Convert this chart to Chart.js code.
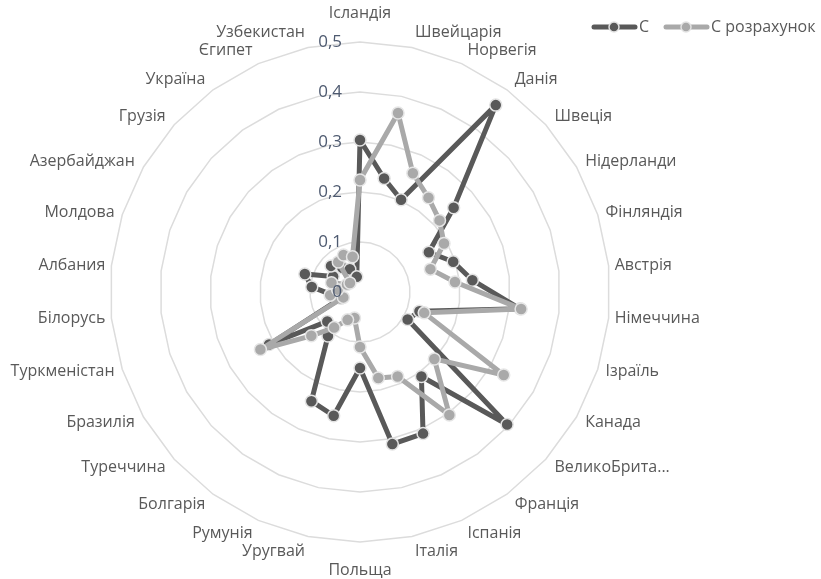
<!DOCTYPE html>
<html>
<head>
<meta charset="utf-8">
<script src="https://cdn.jsdelivr.net/npm/chart.js@4"></script>
<style>
  html, body { margin: 0; padding: 0; background: #fff; }
  #wrap { width: 821px; height: 579px; }
</style>
</head>
<body>
<div id="wrap"><canvas id="radar" width="821" height="579"></canvas></div>
<script>
// data
const categories = ['Ісландія', 'Швейцарія', 'Норвегія', 'Данія', 'Швеція', 'Нідерланди', 'Фінляндія',
  'Австрія', 'Німеччина', 'Ізраїль', 'Канада', 'ВеликоБрита...', 'Франція', 'Іспанія', 'Італія',
  'Польща', 'Уругвай', 'Румунія', 'Болгарія', 'Туреччина', 'Бразилія', 'Туркменістан', 'Білорусь',
  'Албания', 'Молдова', 'Азербайджан', 'Грузія', 'Україна', 'Єгипет', 'Узбекистан'];

const seriesC = [0.304, 0.232, 0.202, 0.462, 0.252, 0.159, 0.196, 0.226, 0.322, 0.125,
  0.110, 0.396, 0.209, 0.310, 0.311, 0.152, 0.253, 0.239, 0.109, 0.088,
  0.210, 0.040, 0.056, 0.097, 0.116, 0.062, 0.078, 0.060, 0.050, 0.031];

const seriesCCalc = [0.224, 0.366, 0.260, 0.233, 0.214, 0.194, 0.148, 0.191, 0.324, 0.135,
  0.332, 0.200, 0.304, 0.185, 0.176, 0.110, 0.053, 0.061, 0.088, 0.131,
  0.230, 0.035, 0.060, 0.045, 0.060, 0.030, 0.027, 0.074, 0.081, 0.072];

const seriesNames = ['С', 'С розрахунок'];
const tickValues = [0, 0.1, 0.2, 0.3, 0.4, 0.5];
const tickLabels = ['0', '0,1', '0,2', '0,3', '0,4', '0,5'];

const DARK = '#595959';
const LIGHT = '#a9a9a9';
const FONT = "'Open Sans', 'Noto Sans', sans-serif";

// keep the plot where the original one sits (centre + outer radius)
const fixedRadar = {
  id: 'fixedRadar',
  beforeLayout(chart) {
    const s = chart.scales.r;
    if (s && !s._fixedCenter) {
      s._fixedCenter = true;
      s.setCenterPoint = function () {
        this.xCenter = 360;
        this.yCenter = 292;
        this.drawingArea = 250;
      };
    }
  }
};

// axis numbers sit left of the vertical axis, like excel does it
const tickText = {
  id: 'tickText',
  afterDatasetsDraw(chart) {
    const s = chart.scales.r;
    const ctx = chart.ctx;
    ctx.save();
    ctx.font = '17px ' + FONT;
    ctx.fillStyle = '#4e5a70';
    ctx.textAlign = 'right';
    ctx.textBaseline = 'middle';
    tickValues.forEach((v, i) => {
      ctx.fillText(tickLabels[i], s.xCenter - 18, s.yCenter - s.getDistanceFromCenterForValue(v));
    });
    ctx.restore();
  }
};

// legend with line + marker swatches
const lineLegend = {
  id: 'lineLegend',
  afterDraw(chart) {
    const ctx = chart.ctx;
    const items = [
      { x: 592, color: DARK, text: seriesNames[0] },
      { x: 664, color: LIGHT, text: seriesNames[1] }
    ];
    const y = 27;
    ctx.save();
    ctx.font = '16px ' + FONT;
    ctx.textBaseline = 'middle';
    ctx.textAlign = 'left';
    items.forEach(it => {
      ctx.strokeStyle = it.color;
      ctx.lineWidth = 5;
      ctx.lineCap = 'round';
      ctx.beginPath();
      ctx.moveTo(it.x + 2, y);
      ctx.lineTo(it.x + 43, y);
      ctx.stroke();
      ctx.beginPath();
      ctx.arc(it.x + 22, y, 5, 0, Math.PI * 2);
      ctx.fillStyle = it.color;
      ctx.fill();
      ctx.lineWidth = 1.5;
      ctx.strokeStyle = '#e3e3e3';
      ctx.stroke();
      ctx.fillStyle = DARK;
      ctx.fillText(it.text, it.x + 47, y);
    });
    ctx.restore();
  }
};

function labelPadding(context) {
  const a = context.index * 2 * Math.PI / categories.length;
  const c = Math.abs(Math.cos(a));
  const onAxis = Math.abs(Math.sin(a)) < 0.01 ? 13 : 0;
  return 5 + 10 * c + onAxis;
}

new Chart(document.getElementById('radar'), {
  type: 'radar',
  data: {
    labels: categories,
    datasets: [{
      label: seriesNames[0],
      data: seriesC,
      order: 2,
      borderColor: DARK,
      backgroundColor: DARK,
      borderWidth: 5,
      borderJoinStyle: 'round',
      borderCapStyle: 'round',
      fill: false,
      pointRadius: 6,
      pointBackgroundColor: DARK,
      pointBorderColor: '#e3e3e3',
      pointBorderWidth: 1.5
    }, {
      label: seriesNames[1],
      data: seriesCCalc,
      order: 1,
      borderColor: LIGHT,
      backgroundColor: LIGHT,
      borderWidth: 5,
      borderJoinStyle: 'round',
      borderCapStyle: 'round',
      fill: false,
      pointRadius: 6,
      pointBackgroundColor: LIGHT,
      pointBorderColor: '#e6e6e6',
      pointBorderWidth: 1.5
    }]
  },
  options: {
    responsive: false,
    devicePixelRatio: 1,
    animation: false,
    layout: { padding: 0 },
    plugins: {
      legend: { display: false },
      tooltip: { enabled: false }
    },
    scales: {
      r: {
        min: 0,
        max: 0.5,
        ticks: { stepSize: 0.1, display: false },
        angleLines: { display: false },
        grid: { color: '#dcdcdc', lineWidth: 1.5, circular: false },
        pointLabels: {
          color: DARK,
          font: { family: FONT, size: 16, lineHeight: 0.01 },
          padding: labelPadding
        }
      }
    }
  },
  plugins: [fixedRadar, tickText, lineLegend]
});
</script>
</body>
</html>
